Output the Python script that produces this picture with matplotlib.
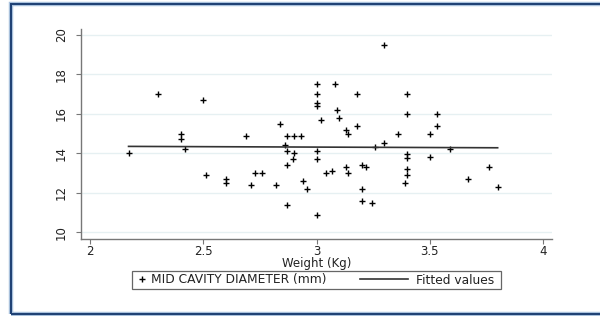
import matplotlib
matplotlib.use("Agg")
import matplotlib.pyplot as plt
from matplotlib.patches import Rectangle

# weight (kg) and mid cavity diameter (mm)
weight = [2.17, 2.30, 2.40, 2.40, 2.42, 2.50, 2.51, 2.60, 2.60, 2.69,
          2.71, 2.73, 2.76, 2.82, 2.84, 2.87, 2.90, 2.93, 2.86, 2.87,
          2.90, 2.895, 2.87, 2.87, 2.94, 2.96, 3.00, 3.00, 3.00, 3.00,
          3.00, 3.00, 3.00, 3.02, 3.04, 3.07, 3.08, 3.09, 3.10, 3.13,
          3.14, 3.13, 3.14, 3.18, 3.18, 3.20, 3.22, 3.20, 3.20, 3.245,
          3.26, 3.30, 3.30, 3.36, 3.40, 3.40, 3.40, 3.40, 3.40, 3.40,
          3.39, 3.50, 3.50, 3.53, 3.53, 3.59, 3.67, 3.76, 3.80]
diameter = [14.0, 17.0, 15.0, 14.7, 14.2, 16.7, 12.9, 12.7, 12.5, 14.9,
            12.4, 13.0, 13.0, 12.4, 15.5, 14.9, 14.9, 14.9, 14.4, 14.1,
            14.0, 13.7, 13.4, 11.4, 12.6, 12.2, 17.5, 17.0, 16.55, 16.4,
            14.1, 13.7, 10.9, 15.7, 13.0, 13.1, 17.5, 16.2, 15.8, 15.2,
            15.0, 13.3, 13.0, 17.0, 15.4, 13.4, 13.3, 12.2, 11.6, 11.5,
            14.3, 19.5, 14.5, 15.0, 17.0, 16.0, 13.95, 13.75, 13.2, 12.9,
            12.5, 15.0, 13.8, 16.0, 15.4, 14.2, 12.7, 13.3, 12.3]

# fitted values line (endpoints)
fit_x = [2.17, 3.80]
fit_y = [14.35, 14.28]

x_ticks = [2, 2.5, 3, 3.5, 4]
x_tick_labels = ["2", "2.5", "3", "3.5", "4"]
y_ticks = [10, 12, 14, 16, 18, 20]

FS = 8.5
TXT = "#222222"
plt.rcParams["font.family"] = ["DejaVu Sans"]

fig = plt.figure(figsize=(6, 3.16), dpi=100)
fig.patches.append(Rectangle((11 / 600, 2 / 316), 1.2, 310 / 316,
                             transform=fig.transFigure, fill=False,
                             edgecolor="#a9c1dc", linewidth=3.2))
fig.patches.append(Rectangle((11 / 600, 2 / 316), 1.2, 310 / 316,
                             transform=fig.transFigure, fill=False,
                             edgecolor="#1d3f73", linewidth=1.4))

ax = fig.add_axes([0.135, 0.2446, 0.785, 0.6634])
ax.set_xlim(1.96, 4.04)
ax.set_ylim(9.676, 20.29)

for y in y_ticks:
    ax.axhline(y, color="#e6f0f2", linewidth=1.0, zorder=0)

pts, = ax.plot(weight, diameter, linestyle="none", marker="+",
               markersize=5, markeredgewidth=1.0, color="black",
               label="MID CAVITY DIAMETER (mm)")
fit, = ax.plot(fit_x, fit_y, color="#333333", linewidth=1.2,
               label="Fitted values")

for side in ["top", "right"]:
    ax.spines[side].set_visible(False)
for side in ["left", "bottom"]:
    ax.spines[side].set_color("#777777")
    ax.spines[side].set_linewidth(1.0)

ax.set_xticks(x_ticks)
ax.set_xticklabels(x_tick_labels)
ax.set_yticks(y_ticks)
ax.set_yticklabels([str(v) for v in y_ticks], rotation=90, va="center")
ax.tick_params(axis="both", length=3.5, width=0.8, color="#777777",
               labelsize=FS, labelcolor=TXT)
ax.tick_params(axis="x", pad=1)
ax.tick_params(axis="y", pad=6)
ax.set_xlabel("Weight (Kg)", fontsize=FS, color=TXT)
ax.xaxis.set_label_coords(0.5, -0.088)

# legend: box plus two entries with different handle widths
fig.patches.append(Rectangle((132 / 600, 1 - 289.3 / 316), 369 / 600,
                             18.6 / 316, transform=fig.transFigure,
                             fill=False, edgecolor="#666666", linewidth=0.9))
leg1 = fig.legend(handles=[pts], loc="center left",
                  bbox_to_anchor=(135.5 / 600, 1 - 280 / 316), fontsize=8.8,
                  frameon=False, handlelength=1.0, handletextpad=0.3,
                  borderpad=0, borderaxespad=0)
leg2 = fig.legend(handles=[fit], loc="center left",
                  bbox_to_anchor=(360 / 600, 1 - 280 / 316), fontsize=8.8,
                  frameon=False, handlelength=3.9, handletextpad=0.66,
                  borderpad=0, borderaxespad=0)
for leg in (leg1, leg2):
    for t in leg.get_texts():
        t.set_color(TXT)

fig.savefig("out.png", dpi=100)
